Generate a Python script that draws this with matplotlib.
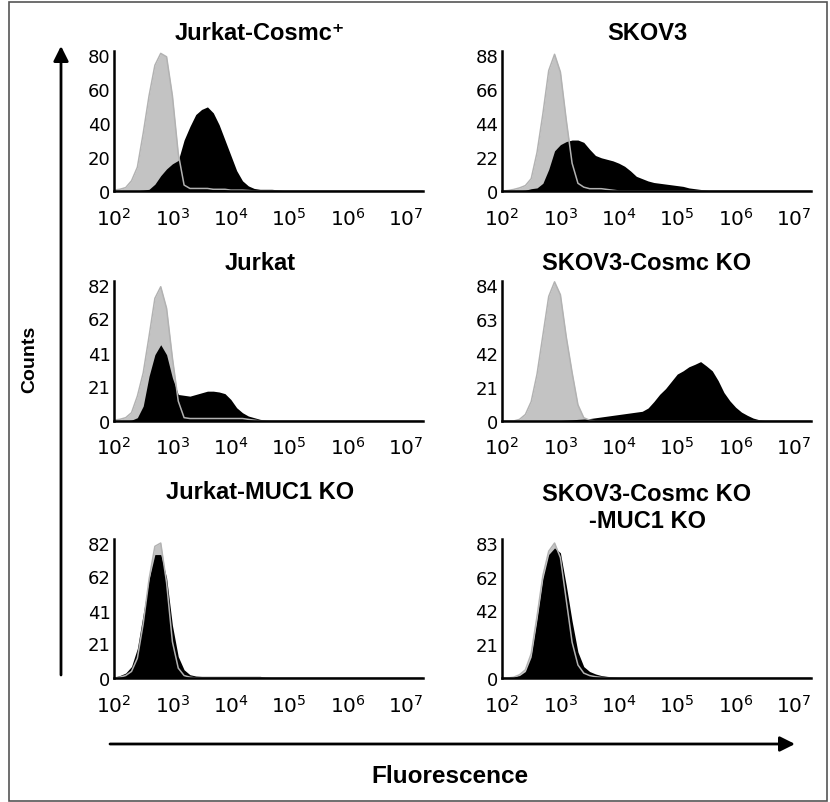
import numpy as np
import matplotlib
matplotlib.use("Agg")
import matplotlib.pyplot as plt
from matplotlib.patches import Rectangle, FancyArrowPatch

# ---------------- data ----------------
# histogram channels: log10(fluorescence), 0.1-decade bins starting at 10^2
channel_log_start = 2.0
channel_log_step = 0.1
n_channels = 54

panel_titles = ["Jurkat-Cosmc\u207a", "SKOV3", "Jurkat", "SKOV3-Cosmc KO",
                "Jurkat-MUC1 KO", "SKOV3-Cosmc KO\n-MUC1 KO"]

y_ticks = [[0, 20, 40, 60, 80], [0, 22, 44, 66, 88], [0, 21, 41, 62, 82],
           [0, 21, 42, 63, 84], [0, 21, 41, 62, 82], [0, 21, 42, 62, 83]]

x_tick_values = [1e2, 1e3, 1e4, 1e5, 1e6, 1e7]
x_tick_labels = ["$10^{2}$", "$10^{3}$", "$10^{4}$", "$10^{5}$", "$10^{6}$", "$10^{7}$"]

# counts per channel (first value = channel at 10^2)
jurkat_cosmc_isotype = [0.5, 1, 2, 6, 14, 34, 56, 74, 81, 79, 56, 22, 3.5, 1.5, 1.5,
                        1.5, 1.5, 1, 1, 1, 0.5, 0.5, 0.5, 0.3]
jurkat_cosmc_stain = [0, 0, 0, 0, 0.2, 0.5, 1, 4, 9, 13, 16, 18, 30, 38, 45, 48, 49.5,
                      46, 39, 30, 21, 12, 6, 3, 1.5, 1, 1, 1, 0.7, 0.3]

skov3_isotype = [0, 0.3, 1, 2, 3.5, 8, 25, 50, 78, 88.5, 77, 46, 18, 5, 2.5, 1.5,
                 1.5, 1.5, 1, 0.5]
skov3_stain = [0, 0, 0, 0.2, 0.5, 1.5, 2, 5, 14, 26, 30, 32, 33, 33, 31.5, 27, 23,
               21.5, 20.5, 19.5, 18, 16, 13, 9.5, 8, 6.5, 5.5, 5, 4.5, 4, 3.5, 3,
               2, 1.5, 1, 0.5]

jurkat_isotype = [0.5, 1, 2, 5, 15, 29, 51, 74, 81, 68, 38, 12, 2, 1.5, 1.5, 1.5,
                  1.5, 1.5, 1.5, 1.5, 1.5, 1.5, 1.5, 1, 0.5]
jurkat_stain = [0, 0, 0, 0.5, 2, 9, 27, 40, 46, 40, 26, 16, 15.5, 15, 16, 17, 18,
                18, 17.5, 16.5, 13, 8, 5, 3, 2, 1, 0.5, 0.3]

skov3_ko_isotype = [0, 0, 0, 1, 4, 12, 29, 53, 77, 86, 78, 52, 30, 10, 2, 0.5]
skov3_ko_stain = [0, 0, 0, 0, 0, 0, 0, 0, 0, 0, 0.3, 0.5, 0.7, 1, 1.2, 1.5, 2, 2.5,
                  3, 3.5, 4, 4.5, 5, 5.5, 6, 8, 12, 16.5, 20, 24.5, 29, 31, 33.5,
                  35, 36.7, 34, 31, 25, 17.6, 12.5, 8.5, 5.5, 3.5, 1.8, 0.8, 0.3]

jurkat_muc1_isotype = [0, 0.5, 1.5, 4, 12, 33, 60, 80, 82, 58, 22, 6, 1.5, 0.5]
jurkat_muc1_stain = [0.5, 1.5, 3, 7, 18, 39, 60, 75, 75, 61, 32, 13, 5, 2, 1.2, 1,
                     1, 1, 1, 1, 1, 1, 1, 1, 1, 1, 0.5, 0.3]

skov3_ko_muc1_isotype = [0, 0, 0.5, 2, 5, 15, 38, 63, 78, 83, 74, 48, 22, 8, 3, 1.5,
                         0.8, 0.3]
skov3_ko_muc1_stain = [0, 0.3, 0.7, 1.5, 4, 13, 36, 61, 76, 80, 77, 57, 35, 16, 7,
                       4, 2.5, 1.5, 1, 0.7, 0.4, 0.2]

isotype_series = [jurkat_cosmc_isotype, skov3_isotype, jurkat_isotype,
                  skov3_ko_isotype, jurkat_muc1_isotype, skov3_ko_muc1_isotype]
stain_series = [jurkat_cosmc_stain, skov3_stain, jurkat_stain,
                skov3_ko_stain, jurkat_muc1_stain, skov3_ko_muc1_stain]

# ---------------- styling / layout ----------------
W, H = 830, 803
GRAY_FILL = "#c3c3c3"
GRAY_LINE = "#b2b2b2"
TITLE_FONT = ["Liberation Sans", "DejaVu Sans"]

fig = plt.figure(figsize=(W / 100, H / 100), dpi=100)

col_x = [114, 502]            # pixel x of left spine
row_axis_y = [192, 422, 679]  # pixel y of x-axis
row_top_y = [52, 282, 540]    # pixel y of spine top
row_label_pad = [11.5, 10.5, 11.5]
axes_w = 309
title_px = [(260, 33), (647, 33), (260, 263), (647, 263), (260, 493), (647, 508)]

channels = channel_log_start + channel_log_step * np.arange(n_channels)
fluor = 10 ** channels


def padded(vals):
    arr = np.zeros(n_channels)
    arr[:len(vals)] = vals
    return arr


for i in range(6):
    r, c = divmod(i, 2)
    left = col_x[c] / W
    bottom = 1 - row_axis_y[r] / H
    height = (row_axis_y[r] - row_top_y[r]) / H
    ax = fig.add_axes([left, bottom, axes_w / W, height])

    iso = padded(isotype_series[i])
    stain = padded(stain_series[i])
    ax.fill_between(fluor, iso, 0, color=GRAY_FILL, lw=0, zorder=1)
    ax.fill_between(fluor, stain, 0, color="black", lw=0, zorder=1.5)
    ax.plot(fluor, iso, color=GRAY_LINE, lw=1.1, zorder=1.8)

    ax.set_xscale("log")
    ax.set_xlim(10 ** 2.0, 10 ** 7.29)
    ax.set_ylim(0, y_ticks[i][-1] * 1.03)
    ax.set_xticks(x_tick_values)
    ax.set_xticklabels(x_tick_labels)
    ax.xaxis.set_minor_locator(matplotlib.ticker.NullLocator())
    ax.set_yticks(y_ticks[i])
    ax.set_yticklabels([str(v) for v in y_ticks[i]])
    ax.tick_params(axis="x", length=0, pad=row_label_pad[r], labelsize=14.5)
    ax.tick_params(axis="y", length=0, pad=2.5, labelsize=13)
    for side in ("top", "right"):
        ax.spines[side].set_visible(False)
    for side in ("left", "bottom"):
        ax.spines[side].set_linewidth(1.8)
        ax.spines[side].set_color("black")
    ax.set_facecolor("none")

    tx, ty = title_px[i]
    fig.text(tx / W, 1 - ty / H, panel_titles[i], ha="center", va="center",
             fontsize=17, fontweight="bold", family=TITLE_FONT, linespacing=1.25)

# axis arrows
fig.add_artist(FancyArrowPatch((61 / W, 1 - 676 / H), (61 / W, 1 - 47 / H),
                               transform=fig.transFigure, arrowstyle="-|>,head_length=0.6,head_width=0.3",
                               mutation_scale=15, lw=2, color="black", shrinkA=0, shrinkB=0))
fig.add_artist(FancyArrowPatch((110 / W, 1 - 745 / H), (795 / W, 1 - 745 / H),
                               transform=fig.transFigure, arrowstyle="-|>,head_length=0.6,head_width=0.3",
                               mutation_scale=15, lw=2, color="black", shrinkA=0, shrinkB=0))

fig.text(30 / W, 1 - 359 / H, "Counts", rotation=90, ha="center", va="center",
         fontsize=14, fontweight="bold", family=TITLE_FONT)
fig.text(450 / W, 1 - 777 / H, "Fluorescence", ha="center", va="center",
         fontsize=17.5, fontweight="bold", family=TITLE_FONT)

# outer frame
fig.add_artist(Rectangle((9 / W, 1 - 802 / H), (827 - 9) / W, (802 - 3) / H,
                         transform=fig.transFigure, fill=False, edgecolor="#555555", lw=1.2))

fig.savefig("out.png", dpi=100)
